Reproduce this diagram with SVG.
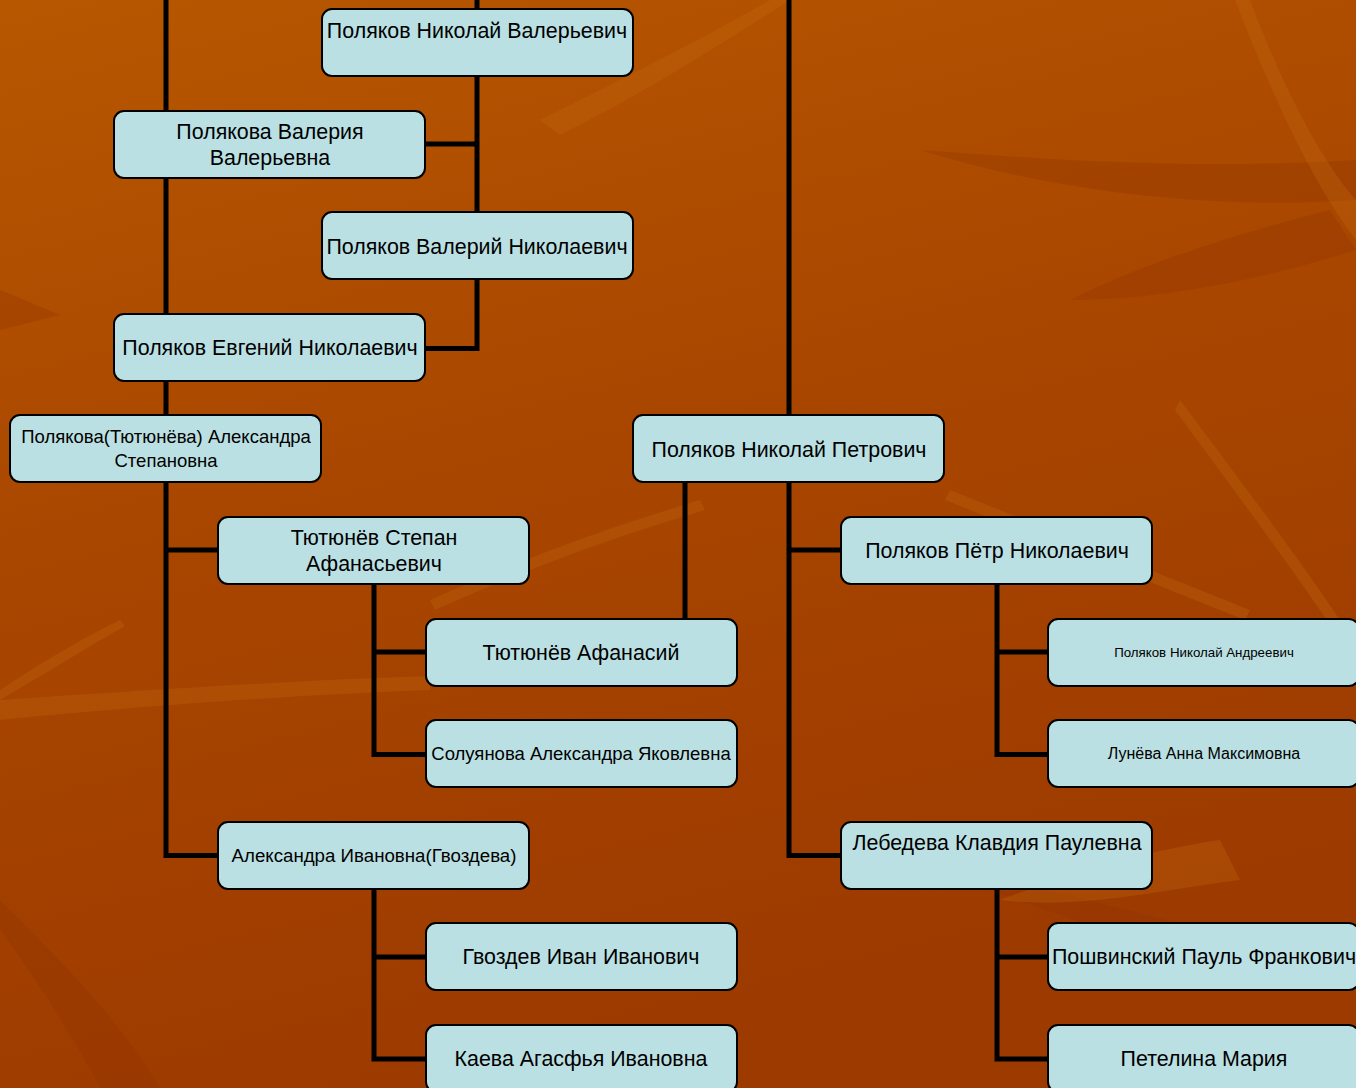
<svg xmlns="http://www.w3.org/2000/svg" width="1356" height="1088" viewBox="0 0 1356 1088">
<defs>
<linearGradient id="bg" x1="0" y1="0" x2="0.3" y2="1">
<stop offset="0" stop-color="#b75700"/>
<stop offset="0.5" stop-color="#a84600"/>
<stop offset="1" stop-color="#9d3a00"/>
</linearGradient>
<style>
.n rect{fill:#bbe0e3;stroke:#000;stroke-width:2}
.n text{font-family:"Liberation Sans",Arial,sans-serif;font-size:21.4px;fill:#000;text-anchor:middle}
.c{stroke:#000;stroke-width:5;fill:none;stroke-linecap:butt;stroke-linejoin:miter}
.lf{fill:#c56a10;opacity:0.3}
.dk{fill:#8f3300;opacity:0.3}
</style>
</defs>
<rect width="1356" height="1088" fill="url(#bg)"/>
<g id="background-leaves">
<path class="lf" d="M0,700 C150,690 300,680 430,676 L430,690 C300,695 150,705 0,720 Z"/>
<path class="lf" d="M540,120 C620,80 700,40 770,0 L790,0 C720,45 640,95 560,135 Z"/>
<path class="lf" d="M1180,400 C1240,480 1300,560 1340,620 L1330,625 C1290,565 1230,485 1175,410 Z"/>
<path class="lf" d="M0,690 C60,650 100,630 120,620 L125,626 C100,640 60,665 0,700 Z"/>
<path class="dk" d="M920,150 C1050,160 1200,170 1356,160 L1356,200 C1200,210 1050,190 920,150 Z"/>
<path class="dk" d="M0,290 L60,315 L0,330 Z"/>
<path class="dk" d="M1070,300 C1150,260 1250,230 1330,210 L1356,250 C1260,280 1160,300 1070,300 Z"/>
<path class="lf" d="M1250,0 C1280,80 1320,160 1356,200 L1356,240 C1310,180 1270,90 1235,0 Z"/>
<path class="dk" d="M900,860 C1000,880 1100,900 1200,930 L1180,960 C1080,920 990,890 900,860 Z"/>
<path class="lf" d="M1000,900 C1080,870 1150,850 1220,840 L1240,880 C1160,890 1080,910 1000,900 Z"/>
<path class="lf" d="M950,490 C1050,530 1150,570 1250,610 L1245,620 C1145,580 1045,540 945,500 Z"/>
<path class="dk" d="M0,900 C60,960 120,1020 160,1088 L100,1088 C70,1030 30,970 0,930 Z"/>
<path class="lf" d="M430,600 C520,560 600,530 700,500 L705,510 C605,540 525,570 435,610 Z"/>
</g>
<g id="connectors">
<path class="c" d="M166,0 V111"/>
<path class="c" d="M166,178 V314"/>
<path class="c" d="M166,381 V415"/>
<path class="c" d="M166,482 V855.5 H218"/>
<path class="c" d="M166,550 H218"/>
<path class="c" d="M477,0 V9"/>
<path class="c" d="M477,76 V212"/>
<path class="c" d="M425,144 H477"/>
<path class="c" d="M477,279 V348.5 H425"/>
<path class="c" d="M789,0 V415"/>
<path class="c" d="M789,482 V855.5 H841"/>
<path class="c" d="M789,550 H841"/>
<path class="c" d="M685,482 V619"/>
<path class="c" d="M374,584 V754.5 H426"/>
<path class="c" d="M374,652 H426"/>
<path class="c" d="M374,889 V1059 H426"/>
<path class="c" d="M374,957 H426"/>
<path class="c" d="M997,584 V754.5 H1048"/>
<path class="c" d="M997,652 H1048"/>
<path class="c" d="M997,889 V1059 H1048"/>
<path class="c" d="M997,957 H1048"/>
</g>
<g id="n1" class="n"><rect x="322" y="9" width="311" height="67" rx="10"/><text x="477" y="38">Поляков Николай Валерьевич</text></g>
<g id="n2" class="n"><rect x="114" y="111" width="311" height="67" rx="10"/><text x="270" y="139">Полякова Валерия</text><text x="270" y="165">Валерьевна</text></g>
<g id="n3" class="n"><rect x="322" y="212" width="311" height="67" rx="10"/><text x="477" y="254">Поляков Валерий Николаевич</text></g>
<g id="n4" class="n"><rect x="114" y="314" width="311" height="67" rx="10"/><text x="270" y="355">Поляков Евгений Николаевич</text></g>
<g id="n5" class="n"><rect x="10" y="415" width="311" height="67" rx="10"/><text x="166" y="443" style="font-size:18.5px">Полякова(Тютюнёва) Александра</text><text x="166" y="467" style="font-size:18.5px">Степановна</text></g>
<g id="n6" class="n"><rect x="633" y="415" width="311" height="67" rx="10"/><text x="789" y="457">Поляков Николай Петрович</text></g>
<g id="n7" class="n"><rect x="218" y="517" width="311" height="67" rx="10"/><text x="374" y="545">Тютюнёв Степан</text><text x="374" y="571">Афанасьевич</text></g>
<g id="n8" class="n"><rect x="841" y="517" width="311" height="67" rx="10"/><text x="997" y="558">Поляков Пётр Николаевич</text></g>
<g id="n9" class="n"><rect x="426" y="619" width="311" height="67" rx="10"/><text x="581" y="660">Тютюнёв Афанасий</text></g>
<g id="n10" class="n"><rect x="1048" y="619" width="311" height="67" rx="10"/><text x="1204" y="657" style="font-size:13.3px">Поляков Николай Андреевич</text></g>
<g id="n11" class="n"><rect x="426" y="720" width="311" height="67" rx="10"/><text x="581" y="760" style="font-size:18.5px">Солуянова Александра Яковлевна</text></g>
<g id="n12" class="n"><rect x="1048" y="720" width="311" height="67" rx="10"/><text x="1204" y="759" style="font-size:16px">Лунёва Анна Максимовна</text></g>
<g id="n13" class="n"><rect x="218" y="822" width="311" height="67" rx="10"/><text x="374" y="862" style="font-size:18.7px">Александра Ивановна(Гвоздева)</text></g>
<g id="n14" class="n"><rect x="841" y="822" width="311" height="67" rx="10"/><text x="997" y="850">Лебедева Клавдия Паулевна</text></g>
<g id="n15" class="n"><rect x="426" y="923" width="311" height="67" rx="10"/><text x="581" y="964">Гвоздев Иван Иванович</text></g>
<g id="n16" class="n"><rect x="1048" y="923" width="311" height="67" rx="10"/><text x="1204" y="964">Пошвинский Пауль Франкович</text></g>
<g id="n17" class="n"><rect x="426" y="1025" width="311" height="67" rx="10"/><text x="581" y="1066">Каева Агасфья Ивановна</text></g>
<g id="n18" class="n"><rect x="1048" y="1025" width="311" height="67" rx="10"/><text x="1204" y="1066">Петелина Мария</text></g>
</svg>
